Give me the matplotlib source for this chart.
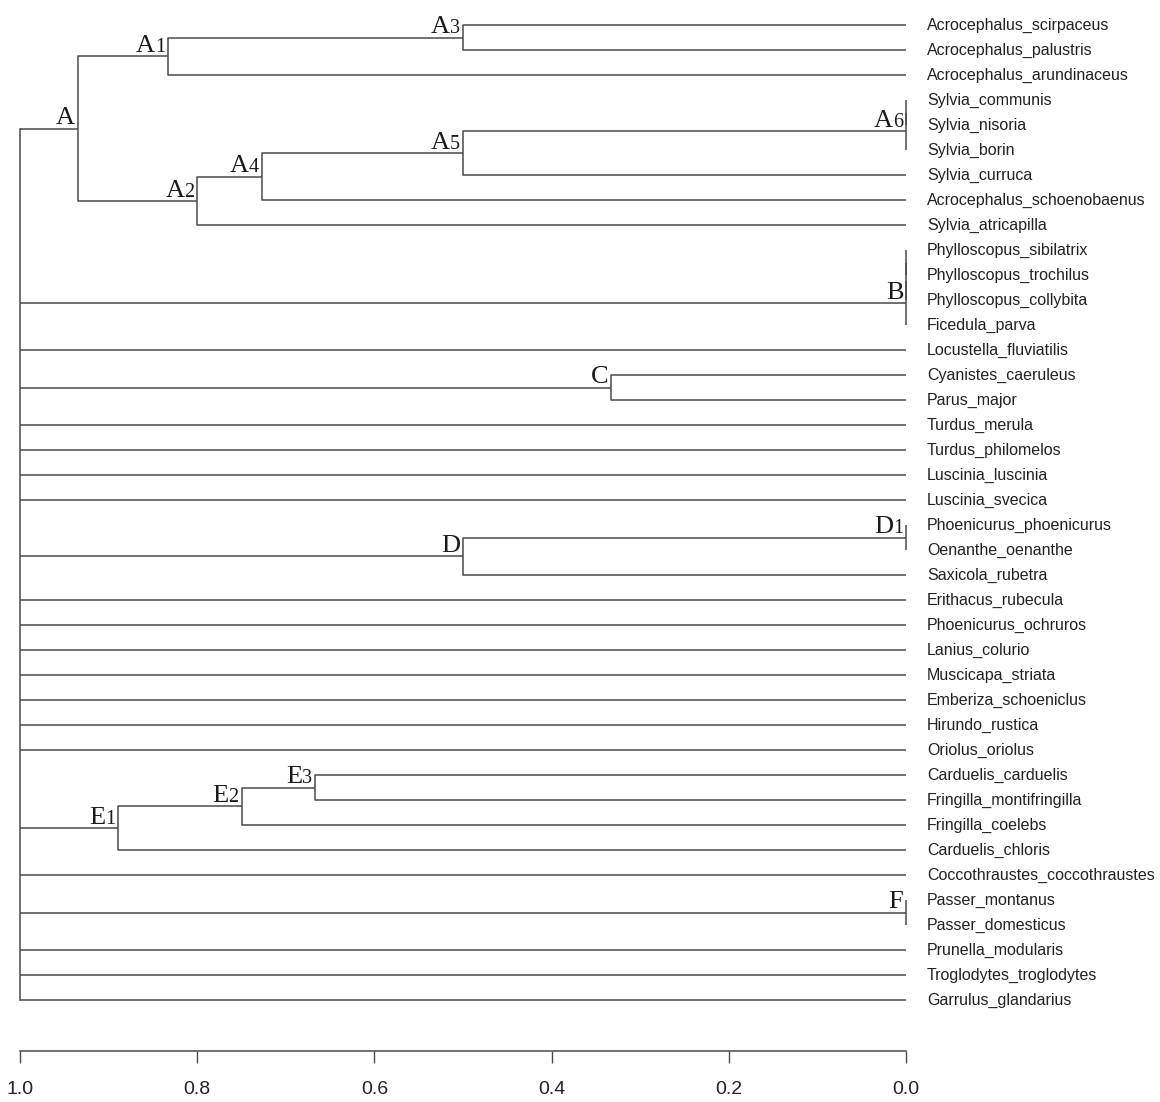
import matplotlib
matplotlib.use('Agg')
from matplotlib import pyplot as plt

# leaves, top to bottom
leaves = ['Acrocephalus_scirpaceus', 'Acrocephalus_palustris', 'Acrocephalus_arundinaceus',
          'Sylvia_communis', 'Sylvia_nisoria', 'Sylvia_borin', 'Sylvia_curruca',
          'Acrocephalus_schoenobaenus', 'Sylvia_atricapilla', 'Phylloscopus_sibilatrix',
          'Phylloscopus_trochilus', 'Phylloscopus_collybita', 'Ficedula_parva',
          'Locustella_fluviatilis', 'Cyanistes_caeruleus', 'Parus_major', 'Turdus_merula',
          'Turdus_philomelos', 'Luscinia_luscinia', 'Luscinia_svecica',
          'Phoenicurus_phoenicurus', 'Oenanthe_oenanthe', 'Saxicola_rubetra',
          'Erithacus_rubecula', 'Phoenicurus_ochruros', 'Lanius_colurio',
          'Muscicapa_striata', 'Emberiza_schoeniclus', 'Hirundo_rustica', 'Oriolus_oriolus',
          'Carduelis_carduelis', 'Fringilla_montifringilla', 'Fringilla_coelebs',
          'Carduelis_chloris', 'Coccothraustes_coccothraustes', 'Passer_montanus',
          'Passer_domesticus', 'Prunella_modularis', 'Troglodytes_troglodytes',
          'Garrulus_glandarius']

# hclust style merges: negative = leaf number, positive = earlier merge row
merge_left = [-1, 1, -4, 3, 4, 5, 6, 2, -10, 9, 10, -15, -21, 13, -31, 15, 16, -36]
merge_right = [-2, -3, -5, -6, -7, -8, -9, 7, -11, -12, -13, -16, -22, -23, -32, -33, -34, -37]
merge_height = [0.5, 0.833, 0.0, 0.0, 0.5, 0.727, 0.8, 0.935, 0.0, 0.0, 0.0, 0.333,
                0.0, 0.5, 0.667, 0.75, 0.889, 0.0]
merge_label = ['A3', 'A1', '', 'A6', 'A5', 'A4', 'A2', 'A', '', '', 'B', 'C',
               'D1', 'D', 'E3', 'E2', 'E1', 'F']

# everything left joins at the root
root_height = 1.0
root_children = [8, 11, -14, 12, -17, -18, -19, -20, 14, -24, -25, -26, -27, -28,
                 -29, -30, 17, -35, 18, -38, -39, -40]

ticks = [1.0, 0.8, 0.6, 0.4, 0.2, 0.0]

line_col = '#4a4a4a'
W, H = 1160, 1102

fig = plt.figure(figsize=(W / 100, H / 100), dpi=100)
ax = fig.add_axes([20 / W, (H - 1051) / H, 886 / W, 1051 / H])
ax.set_xlim(1.0, 0.0)
ax.set_ylim(1051 / 25, 0)

pos = dict()


def node_pos(k):
    if k < 0:
        return 0.0, float(-k)
    return pos[k]


for i in range(len(merge_left)):
    h = merge_height[i]
    hl, yl = node_pos(merge_left[i])
    hr, yr = node_pos(merge_right[i])
    ax.plot([hl, h, h, hr], [yl, yl, yr, yr], color=line_col, lw=1.1,
            clip_on=False, solid_capstyle='butt')
    pos[i + 1] = (h, (yl + yr) / 2)

# root: one vertical at 1.0 plus a branch to each child
root_y = []
for child in root_children:
    hc, yc = node_pos(child)
    ax.plot([hc, root_height], [yc, yc], color=line_col, lw=1.1,
            clip_on=False, solid_capstyle='butt')
    root_y.append(yc)
ax.plot([root_height, root_height], [min(root_y), max(root_y)], color=line_col,
        lw=1.1, clip_on=False, solid_capstyle='projecting')

# cluster names: letter plus a smaller digit on the same baseline
for i, lab in enumerate(merge_label):
    if not lab:
        continue
    h, y = pos[i + 1]
    letter, digit = lab[0], lab[1:]
    dx = -2
    if digit:
        ax.annotate(digit, (h, y), xytext=(dx, 3), textcoords='offset points',
                    ha='right', va='baseline', fontsize=14.5,
                    family='Liberation Serif', color='#1a1a1a')
        dx -= 7.2
    ax.annotate(letter, (h, y), xytext=(dx, 3), textcoords='offset points',
                ha='right', va='baseline', fontsize=19,
                family='Liberation Serif', color='#1a1a1a')

for i, name in enumerate(leaves):
    ax.annotate(name, (0.0, i + 1), xytext=(15, 0), textcoords='offset points',
                ha='left', va='center', fontsize=11.5, family='Liberation Sans',
                color='#222222', annotation_clip=False)

for side in ['top', 'left', 'right']:
    ax.spines[side].set_visible(False)
ax.spines['bottom'].set_color(line_col)
ax.spines['bottom'].set_linewidth(1.1)
ax.set_yticks([])
ax.set_xticks(ticks)
ax.set_xticklabels(['%.1f' % t for t in ticks], family=['Liberation Sans Narrow', 'Liberation Sans'])
ax.tick_params(axis='x', length=8.5, width=1, color=line_col, pad=13,
               labelsize=14, labelcolor='#222222')
ax.patch.set_visible(False)

fig.savefig('out.png', dpi=100)
